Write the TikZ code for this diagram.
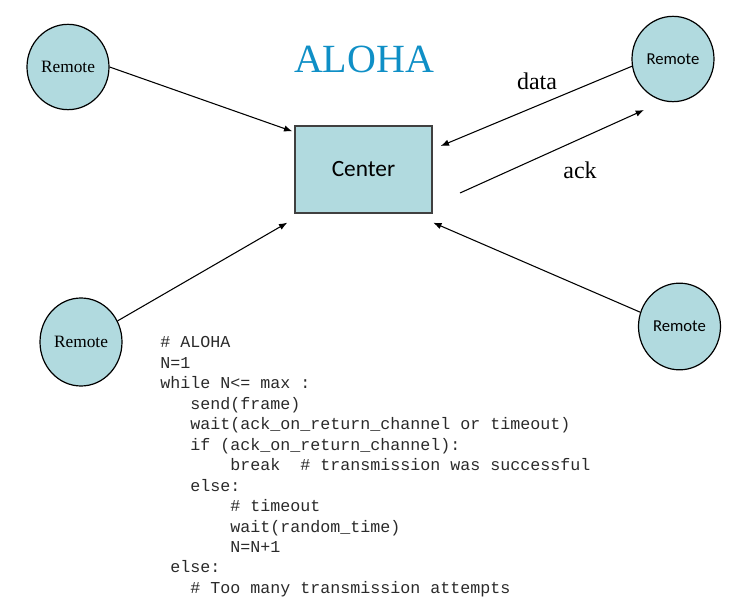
\documentclass[tikz,border=0pt]{standalone}
\usepackage{fontspec}
\setmainfont{Liberation Serif}
\newfontfamily\calibri{Carlito}
\setmonofont{Liberation Mono}
\usepackage{tikz}
\usetikzlibrary{shapes.geometric, arrows.meta, positioning, calc}
\definecolor{colorNodo}{HTML}{B1DADF}
\definecolor{colorTitulo}{HTML}{0F8FC6}
\definecolor{colorCodigo}{HTML}{2A2A2A}

\begin{document}
\begin{tikzpicture}[x=0.75pt, y=-0.75pt,
        r/.style={ellipse, draw, fill=colorNodo, line width=0.9pt, inner sep=0pt,
            minimum width=61.5pt, minimum height=64pt},
        c/.style={draw=black!75, fill=colorNodo, line width=1pt,
            minimum width=102.75pt, minimum height=65.25pt, font=\calibri\fontsize{17.5}{20}\selectfont},
        lbl/.style={font=\fontsize{18}{21}\selectfont},
        code/.style={anchor=base west, inner sep=0pt, text=colorCodigo,
            font=\ttfamily\fontsize{12.5}{15}\selectfont},
        rel/.style={-{Latex[length=2.2mm, width=1.7mm]}, line width=0.8pt}
    ]
        \useasboundingbox (0,0) rectangle (747,606);
        \node[r, font=\fontsize{13}{15}\selectfont] (r1) at (68,67) {Remote};
        \node[r, font=\calibri\fontsize{12.5}{15}\selectfont] (r2) at (673,59) {Remote};
        \node[r, font=\fontsize{13}{15}\selectfont, minimum height=66pt] (r3) at (81,342) {Remote};
        \node[r, font=\calibri\fontsize{12.5}{15}\selectfont, minimum height=65pt] (r4) at (679.5,326.5) {Remote};
        \node[c] (c) at (363.5,169.5) {Center};
        \node[text=colorTitulo, font=\fontsize{30}{36}\selectfont] (titulo) at (364,59) {ALOHA};
        \node[lbl] (data) at (537,81) {data};
        \node[lbl] (ack) at (580,170) {ack};
        \coordinate (ackS) at (460,193);
        \coordinate (ackE) at (644,110);
        \draw[rel] (r1.east) -- ([shift={(-2,6)}]c.north west);
        \draw[rel] (r2.190) -- ([shift={(8,-23.5)}]c.east);
        \draw[rel] (ackS) -- (ackE);
        \draw[rel] (r3.30) -- ([shift={(-7,9)}]c.south west);
        \draw[rel] (r4.160) -- ([shift={(0.5,9)}]c.south east);
        % pseudocodigo
        \foreach \ind/\txt [count=\i] in {
            0/{\# ALOHA},
            0/{N=1},
            0/{while N<= max :},
            3/{send(frame)},
            3/{wait(ack\_on\_return\_channel or timeout)},
            3/{if (ack\_on\_return\_channel):},
            7/{break\ \ \# transmission was successful},
            3/{else:},
            7/{\# timeout},
            7/{wait(random\_time)},
            7/{N=N+1},
            1/{else:},
            3/{\# Too many transmission attempts}}
            \node[code] (l\i) at ({160+10*\ind}, {348+20.45*(\i-1)}) {\txt};
    \end{tikzpicture}
\end{document}
